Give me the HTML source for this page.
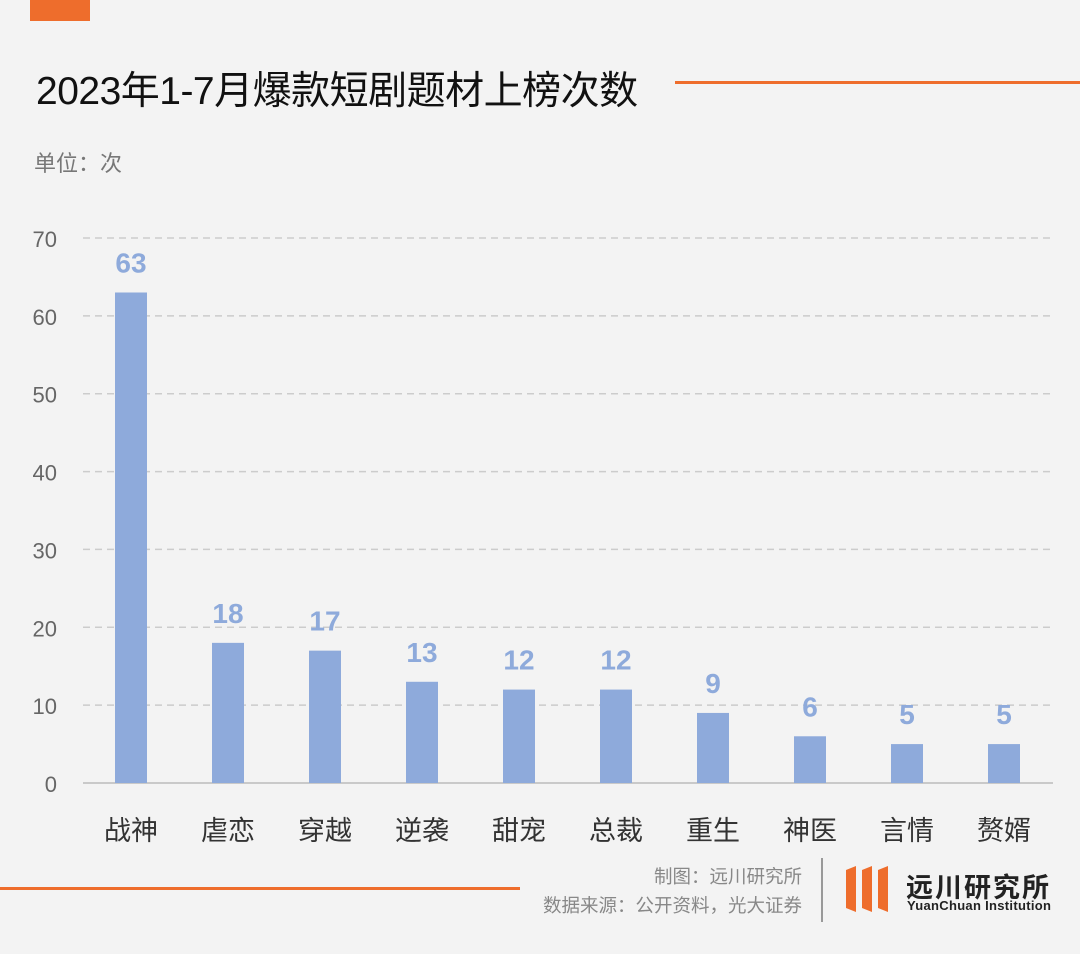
<!DOCTYPE html>
<html><head><meta charset="utf-8">
<style>
html,body{margin:0;padding:0;}
body{width:1080px;height:954px;background:#f3f3f3;position:relative;overflow:hidden;font-family:"Liberation Sans","Noto Sans CJK SC",sans-serif;}
.abs{position:absolute;}
</style></head>
<body>
<div class="abs" style="left:30px;top:0;width:60px;height:21px;background:#ee6d2c;"></div>
<div class="abs" style="left:36px;top:60px;font-size:39px;color:#111;white-space:nowrap;letter-spacing:-0.5px;">2023年1-7月爆款短剧题材上榜次数</div>
<div class="abs" style="left:675px;top:81px;width:405px;height:3px;background:#ee6d2c;"></div>
<div class="abs" style="left:34px;top:146px;font-size:22px;color:#777;">单位：次</div>
<svg class="abs" style="left:0;top:0" width="1080" height="954">
<g id="grid"></g><g id="bars"></g>
</svg>
<div class="abs" style="left:0;top:887px;width:520px;height:3px;background:#ee6d2c;"></div>
<div class="abs" style="right:278px;top:862px;font-size:18.5px;color:#888;text-align:right;line-height:29px;white-space:nowrap;">制图：远川研究所<br>数据来源：公开资料，光大证券</div>
<div class="abs" style="left:821px;top:858px;width:2px;height:64px;background:#999;"></div>
<svg class="abs" style="left:846px;top:866px" width="50" height="46">
<polygon points="0,4 10,0 10,46 0,42" fill="#ee6d2c"/><polygon points="16,4 26,0 26,46 16,42" fill="#ee6d2c"/><polygon points="32,4 42,0 42,46 32,42" fill="#ee6d2c"/></svg>
<div class="abs" style="left:906px;top:866px;font-size:27px;font-weight:bold;color:#222;letter-spacing:2px;">远川研究所</div>
<div class="abs" style="left:907px;top:898px;font-size:13px;font-weight:bold;color:#222;letter-spacing:0.3px;">YuanChuan Institution</div>
<script>
const categories=["战神","虐恋","穿越","逆袭","甜宠","总裁","重生","神医","言情","赘婿"];
const values=[63,18,17,13,12,12,9,6,5,5];
const ticks=[0,10,20,30,40,50,60,70];
const NS="http://www.w3.org/2000/svg";
const y=v=>783-v*(545/70);
const x=i=>131+i*97;
const grid=document.getElementById('grid'),bars=document.getElementById('bars');
function mk(t,a,p){const e=document.createElementNS(NS,t);for(const k in a)e.setAttribute(k,a[k]);p.appendChild(e);return e;}
ticks.forEach(t=>{
 const l=mk('line',{x1:83,x2:1053,y1:y(t),y2:y(t),stroke:t===0?'#bbb':'#ccc','stroke-width':1.5,'stroke-dasharray':t===0?'':'7,5'},grid);
 
 
 const tx=mk('text',{x:57,y:y(t)+9,'text-anchor':'end','font-size':22,fill:'#666'},grid);
 tx.textContent=t;
 
 
});
values.forEach((v,i)=>{
 const r=mk('rect',{x:x(i)-16,y:y(v),width:32,height:783-y(v),fill:'#8eaadb'},bars);
 
 
 const vt=mk('text',{x:x(i),y:y(v)-20,'text-anchor':'middle','font-size':28,'font-weight':'bold',fill:'#8eaadb'},bars);
 vt.textContent=v;
 
 
 const ct=mk('text',{x:x(i),y:840,'text-anchor':'middle','font-size':27,fill:'#333'},bars);
 ct.textContent=categories[i];
 
 
});
</script>
</body></html>
